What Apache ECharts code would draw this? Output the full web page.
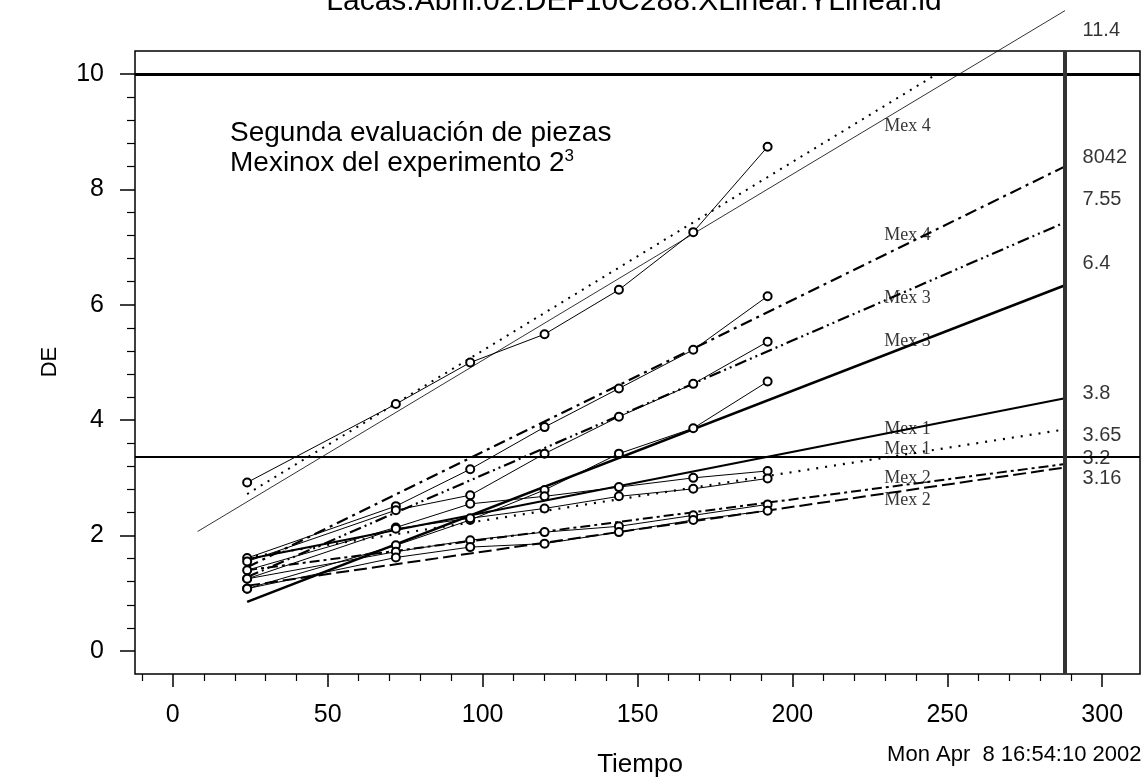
<!DOCTYPE html>
<html><head><meta charset="utf-8">
<script src="https://cdn.jsdelivr.net/npm/echarts@6/dist/echarts.min.js"></script>
<style>html,body{margin:0;padding:0;background:#fff}#c{width:1143px;height:778px}</style>
</head><body><div id="c"></div>
<script>
// ---- data ----
const hours = [24, 72, 96, 120, 144, 168, 192];
const obsMex4a = [2.92, 4.28, 5.00, 5.49, 6.26, 7.26, 8.74];
const obsMex4b = [1.61, 2.51, 3.15, 3.88, 4.55, 5.22, 6.15];
const obsMex3a = [1.55, 2.44, 2.70, 3.42, 4.06, 4.63, 5.36];
const obsMex3b = [1.08, 1.83, 2.27, 2.79, 3.42, 3.86, 4.67];
const obsMex1a = [1.40, 2.14, 2.55, 2.68, 2.84, 3.00, 3.12];
const obsMex1b = [1.25, 2.12, 2.30, 2.47, 2.68, 2.81, 2.99];
const obsMex2a = [1.25, 1.72, 1.92, 2.06, 2.16, 2.35, 2.54];
const obsMex2b = [1.08, 1.62, 1.80, 1.86, 2.06, 2.27, 2.43];

const fitMex4Thin     = [[8, 2.07], [288, 11.1]];
const fitMex4Dotted   = [[24, 2.72], [246.6, 10.0]];
const fitMex4DashDot  = [[24, 1.45], [288, 8.40]];
const fitMex3DashDot2 = [[24, 1.28], [288, 7.43]];
const fitMex3Solid    = [[24, 0.85], [288, 6.34]];
const fitMex1Solid    = [[24, 1.59], [288, 4.38]];
const fitMex1Dotted   = [[24, 1.62], [288, 3.84]];
const fitMex2DashDot  = [[24, 1.40], [288, 3.24]];
const fitMex2Dashed   = [[24, 1.13], [288, 3.18]];

const refLinesY = [10, 3.36];
const refLinesX = [288];

const mexLabels = ['Mex 4', 'Mex 4', 'Mex 3', 'Mex 3', 'Mex 1', 'Mex 1', 'Mex 2', 'Mex 2'];
const mexLabelY = [9.09, 7.20, 6.11, 5.36, 3.85, 3.49, 2.99, 2.61];
const endLabels = ['11.4', '8042', '7.55', '6.4', '3.8', '3.65', '3.2', '3.16'];
const endLabelY = [10.76, 8.56, 7.83, 6.72, 4.47, 3.74, 3.34, 2.99];

const xMajorTicks = [0, 50, 100, 150, 200, 250, 300];
const xMinorTicks = [-10, 10, 20, 30, 40, 60, 70, 80, 90, 110, 120, 130, 140, 160, 170, 180, 190,
  210, 220, 230, 240, 260, 270, 280, 290];
const yMajorTicks = [0, 2, 4, 6, 8, 10];
const yMinorTicks = [0.4, 0.8, 1.2, 1.6, 2.4, 2.8, 3.2, 3.6, 4.4, 4.8, 5.2, 5.6, 6.4, 6.8, 7.2, 7.6,
  8.4, 8.8, 9.2, 9.6];

// ---- chart ----
const SANS = 'Liberation Sans, Arial, sans-serif';
const SERIF = 'Liberation Serif, Times New Roman, serif';
const X_MIN = -12.2, X_MAX = 312.2, Y_MIN = -0.4, Y_MAX = 10.4;

function obs(vals) {
  return {
    type: 'line', data: hours.map((h, i) => [h, vals[i]]),
    symbol: 'emptyCircle', symbolSize: 8,
    lineStyle: { color: '#000', width: 1 },
    itemStyle: { color: '#000', borderWidth: 1.3 },
    z: 4, silent: true, animation: false
  };
}
function fit(pts, width, type, extra) {
  return Object.assign({
    type: 'line', data: pts, symbol: 'none', clip: false,
    lineStyle: { color: '#000', width: width, type: type },
    z: 3, silent: true, animation: false
  }, extra || {});
}
function txt(x, y, text, font, align, extra) {
  return Object.assign({
    type: 'text', x: x, y: y, silent: true,
    style: { text: text, font: font, fill: '#000', align: align, verticalAlign: 'middle',
      textAlign: align, textVerticalAlign: 'middle' }
  }, extra || {});
}

const chart = echarts.init(document.getElementById('c'), null, { renderer: 'canvas' });
const option = {
  backgroundColor: '#fff',
  animation: false,
  grid: { left: 135, right: 3, top: 51, bottom: 104, show: true, borderColor: '#000', borderWidth: 1.5, backgroundColor: 'transparent' },
  xAxis: [
    { type: 'value', min: X_MIN, max: X_MAX, position: 'bottom',
      axisLine: { show: false, onZero: false }, splitLine: { show: false },
      axisTick: { show: true, customValues: xMajorTicks, length: 13, lineStyle: { color: '#000', width: 1.5 } },
      axisLabel: { customValues: xMajorTicks, fontFamily: SANS, fontSize: 25, color: '#000', margin: 29 } },
    { type: 'value', min: X_MIN, max: X_MAX, position: 'bottom',
      axisLine: { show: false, onZero: false }, splitLine: { show: false },
      axisTick: { show: true, customValues: xMinorTicks, length: 7, lineStyle: { color: '#000', width: 1.2 } },
      axisLabel: { show: false } }
  ],
  yAxis: [
    { type: 'value', min: Y_MIN, max: Y_MAX, position: 'left',
      axisLine: { show: false, onZero: false }, splitLine: { show: false },
      axisTick: { show: true, customValues: yMajorTicks, length: 15, lineStyle: { color: '#000', width: 1.5 } },
      axisLabel: { customValues: yMajorTicks, fontFamily: SANS, fontSize: 25, color: '#000', margin: 31 } },
    { type: 'value', min: Y_MIN, max: Y_MAX, position: 'left',
      axisLine: { show: false, onZero: false }, splitLine: { show: false },
      axisTick: { show: true, customValues: yMinorTicks, length: 8, lineStyle: { color: '#000', width: 1.2 } },
      axisLabel: { show: false } }
  ],
  series: [
    fit(fitMex4Thin, 0.8, 'solid', {
      markLine: {
        symbol: 'none', silent: true, animation: false, label: { show: false },
        lineStyle: { color: '#000', type: 'solid' },
        data: [
          { yAxis: refLinesY[0], lineStyle: { width: 3 } },
          { yAxis: refLinesY[1], lineStyle: { width: 2 } },
          { xAxis: refLinesX[0], lineStyle: { width: 4, color: '#333' } }
        ]
      }
    }),
    fit(fitMex4Dotted, 2, [2, 6]),
    fit(fitMex4DashDot, 2.2, [12, 5, 3, 5]),
    fit(fitMex3DashDot2, 2.2, [12, 4, 2, 4, 2, 4]),
    fit(fitMex3Solid, 2.6, 'solid'),
    fit(fitMex1Solid, 2.2, 'solid'),
    fit(fitMex1Dotted, 2.2, [2, 7]),
    fit(fitMex2DashDot, 2, [10, 4, 3, 4]),
    fit(fitMex2Dashed, 2, [13, 5]),
    obs(obsMex4a), obs(obsMex4b), obs(obsMex3a), obs(obsMex3b),
    obs(obsMex1a), obs(obsMex1b), obs(obsMex2a), obs(obsMex2b),
    { type: 'scatter', clip: false, silent: true, animation: false, z: 6,
      data: mexLabelY.map((y, i) => [229.5, y, mexLabels[i]]),
      symbolSize: 1, itemStyle: { color: 'transparent' },
      label: { show: true, position: 'right', distance: 0, formatter: p => p.data[2],
        fontFamily: SERIF, fontSize: 18, color: '#000' } },
    { type: 'scatter', clip: false, silent: true, animation: false, z: 6,
      data: endLabelY.map((y, i) => [293.5, y, endLabels[i]]),
      symbolSize: 1, itemStyle: { color: 'transparent' },
      label: { show: true, position: 'right', distance: 0, formatter: p => p.data[2],
        fontFamily: SANS, fontSize: 20, color: '#000' } }
  ],
  graphic: [
    txt(634, 2, 'Lacas.Abril.02.DEF10C288.XLinear.YLinear.ld', '30px ' + SANS, 'center'),
    txt(230, 133, 'Segunda evaluación de piezas', '28px ' + SANS, 'left'),
    { type: 'text', x: 230, y: 163, silent: true,
      style: { text: '{a|Mexinox del experimento 2}{s|3}', fill: '#000',
        align: 'left', verticalAlign: 'middle', textAlign: 'left', textVerticalAlign: 'middle',
        rich: { a: { fontFamily: SANS, fontSize: 28, lineHeight: 30, fill: '#000' },
                s: { fontFamily: SANS, fontSize: 17, lineHeight: 30, verticalAlign: 'top', fill: '#000' } } } },
    txt(50, 362, 'DE', '22px ' + SANS, 'center', { rotation: Math.PI / 2 }),
    txt(640, 765, 'Tiempo', '26px ' + SANS, 'center'),
    txt(1141.5, 755, 'Mon Apr  8 16:54:10 2002', '22px ' + SANS, 'right')
  ]
};
chart.setOption(option);
</script>
</body></html>
